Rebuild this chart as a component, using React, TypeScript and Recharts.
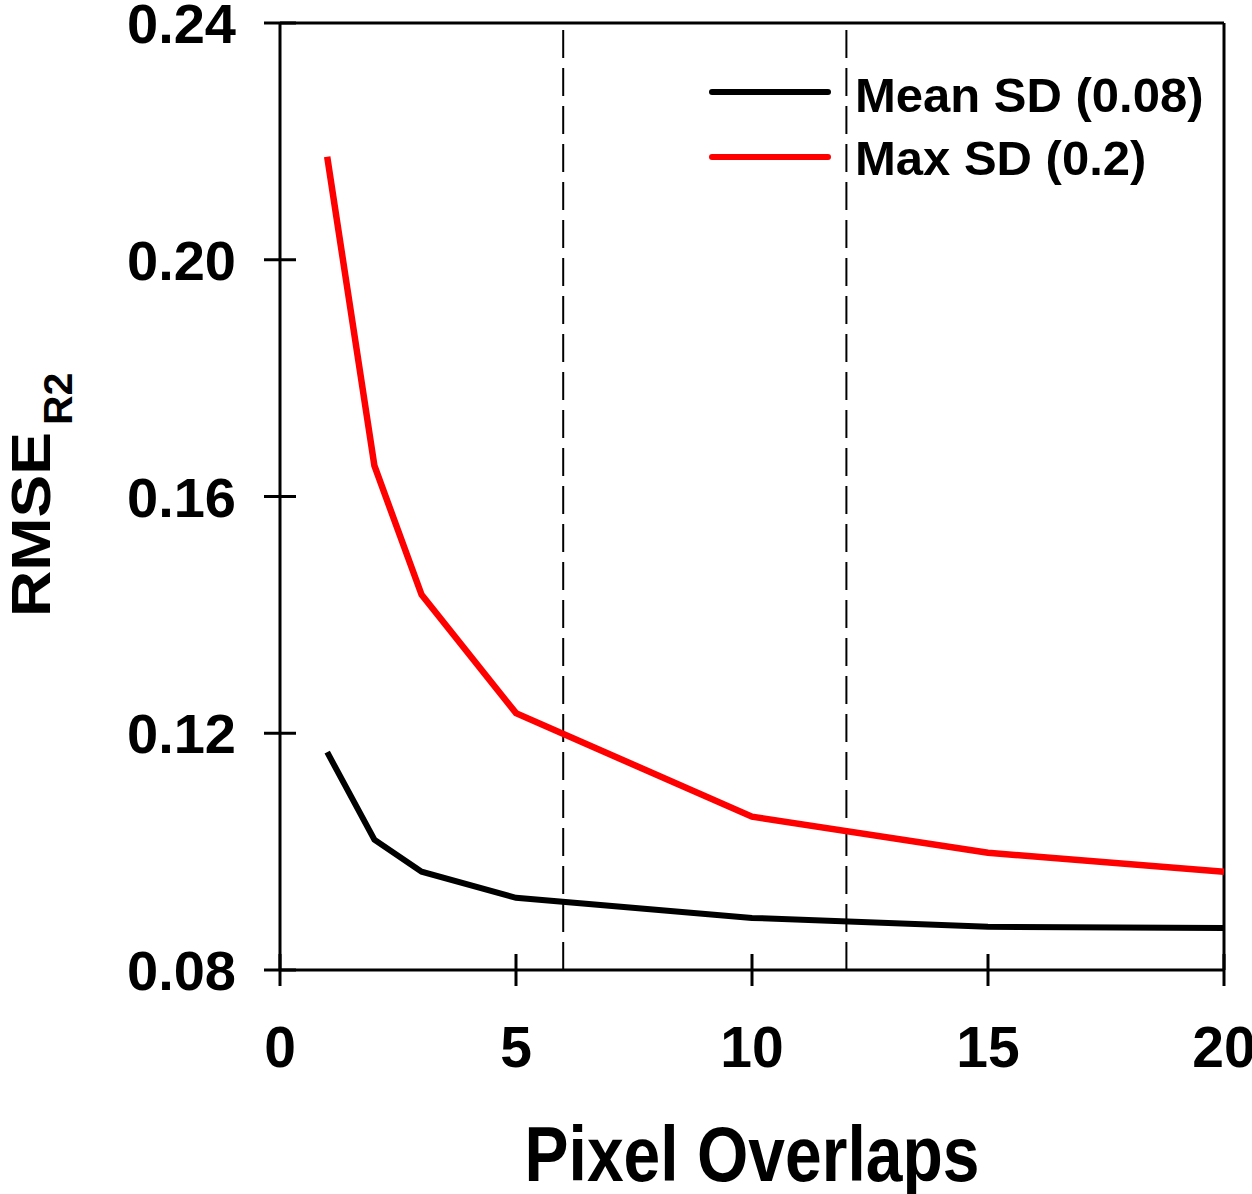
import React from "react";
import { LineChart, Line, XAxis, YAxis, ReferenceLine, Legend } from "recharts";

// Pixel overlap values (x axis)
const overlaps = [1, 2, 3, 5, 10, 15, 20];
// RMSE_R2 for each series
const meanSd = [0.1168, 0.102, 0.0966, 0.0922, 0.0888, 0.0873, 0.0871];
const maxSd = [0.2174, 0.1652, 0.1434, 0.1234, 0.1059, 0.0998, 0.0966];
const seriesNames = ["Mean SD (0.08)", "Max SD (0.2)"];

const xTicks = [0, 5, 10, 15, 20];
const yTicks = [0.08, 0.12, 0.16, 0.2, 0.24];
const dashedAt = [6, 12];

const FONT = "'Liberation Sans', Arial, sans-serif";
const W = 1252;
const H = 1194;
const PLOT_LEFT = 280;
const PLOT_BOTTOM = 970;
const TICK_HALF = 16;

const chartData = overlaps.map((x, i) => ({ x, mean: meanSd[i], max: maxSd[i] }));

const YTick = (props: any) => {
  const { y, payload } = props;
  return (
    <g>
      <line x1={PLOT_LEFT - TICK_HALF} x2={PLOT_LEFT + TICK_HALF} y1={y} y2={y} stroke="#000" strokeWidth={3} />
      <text
        x={236}
        y={y + 20}
        textAnchor="end"
        fontFamily={FONT}
        fontWeight="bold"
        fontSize={56}
        fill="#000"
      >
        {Number(payload.value).toFixed(2)}
      </text>
    </g>
  );
};

const XTick = (props: any) => {
  const { x, payload } = props;
  return (
    <g>
      <line x1={x} x2={x} y1={PLOT_BOTTOM - TICK_HALF} y2={PLOT_BOTTOM + TICK_HALF} stroke="#000" strokeWidth={3} />
      <text
        x={x}
        y={1067}
        textAnchor="middle"
        fontFamily={FONT}
        fontWeight="bold"
        fontSize={57}
        fill="#000"
      >
        {payload.value}
      </text>
    </g>
  );
};

const XTitle = () => (
  <text
    transform="translate(752,1181) scale(1,1.18)"
    textAnchor="middle"
    fontFamily={FONT}
    fontWeight="bold"
    fontSize={66}
    fill="#000"
  >
    Pixel Overlaps
  </text>
);

const YTitle = () => (
  <g fontFamily={FONT} fontWeight="bold" fill="#000">
    <text transform="translate(50,617) rotate(-90) scale(1,0.87)" fontSize={64}>
      RMSE
    </text>
    <text transform="translate(72,425) rotate(-90)" fontSize={41}>
      R2
    </text>
  </g>
);

const LegendBox = (props: any) => {
  const payload = [...(props.payload || [])].sort(
    (a: any, b: any) => seriesNames.indexOf(a.value) - seriesNames.indexOf(b.value)
  );
  return (
    <svg width={540} height={140} style={{ display: "block", overflow: "visible" }}>
      {payload.map((entry: any, i: number) => (
        <g key={entry.value}>
          <line
            x1={12}
            x2={128}
            y1={32 + i * 65}
            y2={32 + i * 65}
            stroke={entry.color}
            strokeWidth={6}
            strokeLinecap="round"
          />
          <text
            x={155}
            y={52 + i * 63}
            fontFamily={FONT}
            fontWeight="bold"
            fontSize={49}
            fill="#000"
          >
            {entry.value}
          </text>
        </g>
      ))}
    </svg>
  );
};

export default function App() {
  return (
    <div style={{ position: "absolute", left: 0, top: 0, width: W, height: H, background: "#fff" }}>
      <LineChart width={W} height={H} data={chartData} margin={{ top: 23, right: 28, bottom: 0, left: 0 }}>
        <XAxis
          dataKey="x"
          type="number"
          domain={[0, 20]}
          ticks={xTicks}
          height={224}
          axisLine={{ stroke: "#000", strokeWidth: 3 }}
          tickLine={false}
          tick={XTick}
          label={XTitle}
        />
        <YAxis
          type="number"
          domain={[0.08, 0.24]}
          ticks={yTicks}
          width={280}
          axisLine={{ stroke: "#000", strokeWidth: 3 }}
          tickLine={false}
          tick={YTick}
          label={YTitle}
        />
        {dashedAt.map((v) => (
          <ReferenceLine key={v} x={v} stroke="#000" strokeWidth={2} strokeDasharray="28 10" />
        ))}
        <ReferenceLine y={0.24} stroke="#000" strokeWidth={3} />
        <ReferenceLine x={20} stroke="#000" strokeWidth={3} />
        <Legend
          content={LegendBox}
          wrapperStyle={{ position: "absolute", left: 700, top: 60, width: 0, height: 0, overflow: "visible" }}
        />
        <Line
          type="linear"
          dataKey="mean"
          name={seriesNames[0]}
          stroke="#000"
          strokeWidth={6}
          dot={false}
          isAnimationActive={false}
        />
        <Line
          type="linear"
          dataKey="max"
          name={seriesNames[1]}
          stroke="#ff0000"
          strokeWidth={6.5}
          dot={false}
          isAnimationActive={false}
        />
      </LineChart>
    </div>
  );
}
